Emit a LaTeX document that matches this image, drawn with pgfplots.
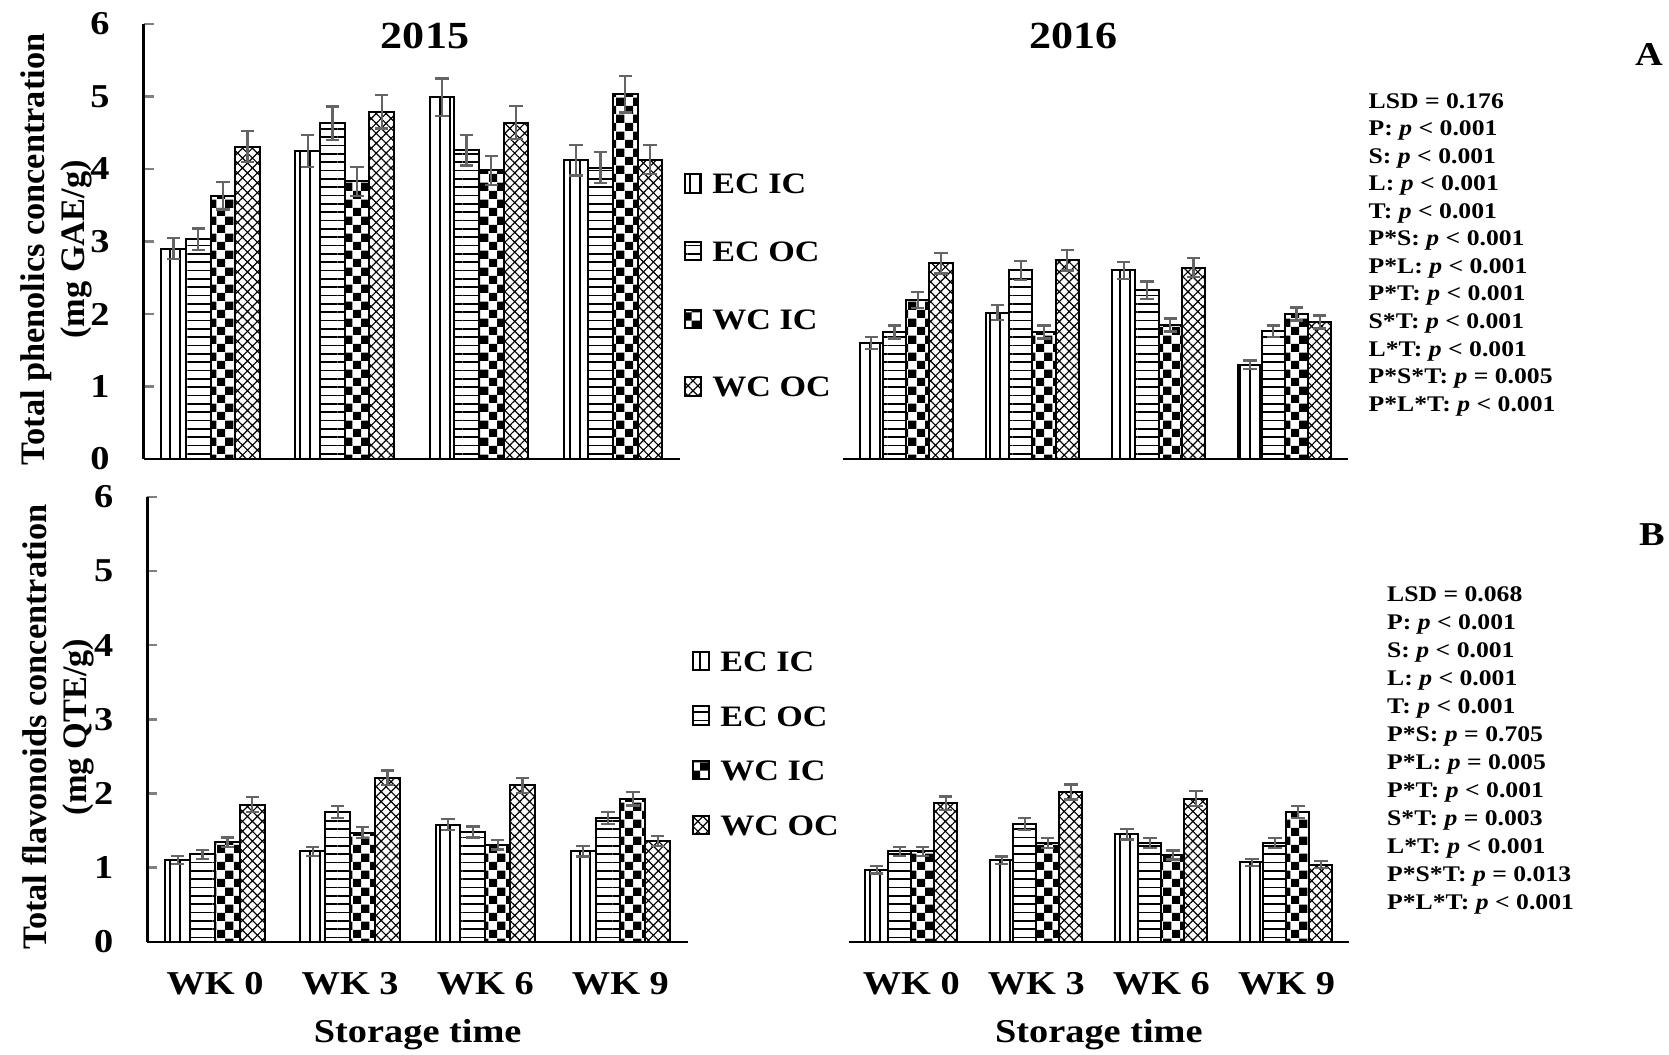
\documentclass[border=0pt]{standalone}
\usepackage{fontspec}
\setmainfont{Liberation Serif}[FakeStretch=1.15]
\newfontfamily\ylabfont{Liberation Serif}
\usepackage{pgfplots}
\pgfplotsset{compat=1.18}
\usetikzlibrary{patterns.meta}
\pgfdeclarepatternformonly{bigchecker}{\pgfqpoint{0pt}{0pt}}{\pgfqpoint{5pt}{5pt}}{\pgfqpoint{5pt}{5pt}}{%
  \pgfpathrectangle{\pgfqpoint{0pt}{0pt}}{\pgfqpoint{2.5pt}{2.5pt}}%
  \pgfpathrectangle{\pgfqpoint{2.5pt}{2.5pt}}{\pgfqpoint{2.5pt}{2.5pt}}%
  \pgfusepath{fill}}
\definecolor{errgray}{RGB}{100,100,100}
\tikzset{
  ecic/.style={draw=black, line width=0.6pt, pattern={Lines[angle=90,distance=3pt,line width=0.6pt]}},
  ecoc/.style={draw=black, line width=0.6pt, pattern={Lines[angle=0,distance=2.5pt,line width=0.5pt]}},
  wcic/.style={draw=black, line width=0.6pt, pattern=bigchecker},
  wcoc/.style={draw=black, line width=0.6pt, pattern={Hatch[angle=45,distance=2.1pt,line width=0.35pt]}},
}
\pgfplotsset{
  panel/.style={scale only axis, xmin=-0.5, xmax=3.5, ymin=0, ymax=6, ytick={0,1,2,3,4,5,6},
    ybar, bar shift=0pt, bar width=0.184,
    axis x line*=bottom, clip=false,
    axis line style={line width=0.7pt},
    tick style={line width=0.7pt}, tick align=inside, major tick length=3pt,
    xtick style={draw=none},
    error bars/y dir=both, error bars/y explicit,
    error bars/error bar style={errgray, line width=0.7pt},
    error bars/error mark options={rotate=90, errgray, mark size=2pt, line width=0.7pt}},
  leftpanel/.style={panel, axis y line*=left, yticklabels={0,1,2,3,4,5,6},
    yticklabel style={font=\fontsize{10}{12}\selectfont\bfseries, anchor=east, inner sep=0pt, xshift=-10pt},
    legend image code/.code={\draw[##1, line width=0.6pt] (0pt,-2.75pt) rectangle (5pt,2.75pt);},
    legend cell align=left},
  rightpanel/.style={panel, axis y line=none},
  toppanel/.style={xtick=\empty},
  botpanel/.style={xtick={0,1,2,3}, xticklabels={WK 0,WK 3,WK 6,WK 9},
    xticklabel style={font=\fontsize{10}{12}\selectfont\bfseries, anchor=center, yshift=-12.6pt},
    xlabel={Storage time},
    xlabel style={font=\fontsize{10}{12}\selectfont\bfseries, at={(axis description cs:0.5,0)}, anchor=center, yshift=-27.9pt}},
}
\begin{document}
\begin{tikzpicture}
\useasboundingbox (0pt,0pt) rectangle (500.7pt,316.2pt);
% ---------- top left: 2015 phenolics
\begin{axis}[leftpanel, toppanel, at={(43.08pt,178.5pt)}, anchor=south west, width=160.92pt, height=130.5pt,
  legend style={at={(1.0056,0.40)}, anchor=west, draw=none, fill=none, inner sep=0pt, row sep=14pt,
    font=\fontsize{8.9}{10}\selectfont\bfseries, nodes={inner sep=0pt, text height=6.3pt, text depth=0pt},
    /tikz/every odd column/.append style={column sep=3pt}}]
\addplot[ecic] coordinates {(-0.276,2.90) +- (0,0.145) (0.724,4.25) +- (0,0.22) (1.724,4.99) +- (0,0.26) (2.724,4.12) +- (0,0.21)};
\addplot[ecoc] coordinates {(-0.092,3.03) +- (0,0.15) (0.908,4.63) +- (0,0.23) (1.908,4.26) +- (0,0.21) (2.908,4.02) +- (0,0.21)};
\addplot[wcic] coordinates {(0.092,3.63) +- (0,0.19) (1.092,3.83) +- (0,0.20) (2.092,3.98) +- (0,0.20) (3.092,5.03) +- (0,0.25)};
\addplot[wcoc] coordinates {(0.276,4.31) +- (0,0.21) (1.276,4.79) +- (0,0.23) (2.276,4.64) +- (0,0.23) (3.276,4.13) +- (0,0.20)};
\legend{EC IC, EC OC, WC IC, WC OC}
\end{axis}
% ---------- top right: 2016 phenolics
\begin{axis}[rightpanel, toppanel, at={(252.9pt,178.5pt)}, anchor=south west, width=151.5pt, height=130.5pt]
\addplot[ecic] coordinates {(-0.276,1.60) +- (0,0.08) (0.724,2.02) +- (0,0.10) (1.724,2.60) +- (0,0.12) (2.724,1.30) +- (0,0.06)};
\addplot[ecoc] coordinates {(-0.092,1.75) +- (0,0.09) (0.908,2.60) +- (0,0.13) (1.908,2.33) +- (0,0.12) (2.908,1.76) +- (0,0.08)};
\addplot[wcic] coordinates {(0.092,2.19) +- (0,0.11) (1.092,1.75) +- (0,0.09) (2.092,1.85) +- (0,0.09) (3.092,2.00) +- (0,0.09)};
\addplot[wcoc] coordinates {(0.276,2.70) +- (0,0.14) (1.276,2.74) +- (0,0.14) (2.276,2.64) +- (0,0.13) (3.276,1.89) +- (0,0.09)};
\end{axis}
% ---------- bottom left: 2015 flavonoids
\begin{axis}[leftpanel, botpanel, at={(44.22pt,33.69pt)}, anchor=south west, width=162.18pt, height=133.41pt,
  legend style={at={(1.0056,0.447)}, anchor=west, draw=none, fill=none, inner sep=0pt, row sep=10.1pt,
    font=\fontsize{8.9}{10}\selectfont\bfseries, nodes={inner sep=0pt, text height=6.3pt, text depth=0pt},
    /tikz/every odd column/.append style={column sep=3pt}}]
\addplot[ecic] coordinates {(-0.276,1.10) +- (0,0.055) (0.724,1.22) +- (0,0.06) (1.724,1.58) +- (0,0.075) (2.724,1.22) +- (0,0.07)};
\addplot[ecoc] coordinates {(-0.092,1.18) +- (0,0.06) (0.908,1.75) +- (0,0.085) (1.908,1.48) +- (0,0.075) (2.908,1.67) +- (0,0.08)};
\addplot[wcic] coordinates {(0.092,1.34) +- (0,0.065) (1.092,1.47) +- (0,0.075) (2.092,1.31) +- (0,0.065) (3.092,1.93) +- (0,0.09)};
\addplot[wcoc] coordinates {(0.276,1.85) +- (0,0.10) (1.276,2.21) +- (0,0.10) (2.276,2.11) +- (0,0.10) (3.276,1.36) +- (0,0.065)};
\legend{EC IC, EC OC, WC IC, WC OC}
\end{axis}
% ---------- bottom right: 2016 flavonoids
\begin{axis}[rightpanel, botpanel, at={(254.61pt,33.69pt)}, anchor=south west, width=150.09pt, height=133.41pt]
\addplot[ecic] coordinates {(-0.276,0.97) +- (0,0.05) (0.724,1.10) +- (0,0.05) (1.724,1.45) +- (0,0.07) (2.724,1.07) +- (0,0.05)};
\addplot[ecoc] coordinates {(-0.092,1.22) +- (0,0.06) (0.908,1.59) +- (0,0.08) (1.908,1.33) +- (0,0.065) (2.908,1.33) +- (0,0.065)};
\addplot[wcic] coordinates {(0.092,1.22) +- (0,0.06) (1.092,1.33) +- (0,0.065) (2.092,1.17) +- (0,0.06) (3.092,1.75) +- (0,0.085)};
\addplot[wcoc] coordinates {(0.276,1.87) +- (0,0.09) (1.276,2.02) +- (0,0.10) (2.276,1.93) +- (0,0.10) (3.276,1.04) +- (0,0.05)};
\end{axis}
% ---------- titles and annotations
\node[font=\fontsize{11.5}{13}\selectfont\bfseries] at (127.5pt,305.4pt) {2015};
\node[font=\fontsize{11.5}{13}\selectfont\bfseries] at (322.05pt,305.4pt) {2016};
\node[font=\fontsize{10}{12}\selectfont\bfseries] at (494.7pt,299.7pt) {A};
\node[font=\fontsize{10}{12}\selectfont\bfseries] at (495.6pt,155.7pt) {B};
\node[rotate=90, align=center, font={\ylabfont\fontsize{10.3}{12}\selectfont\bfseries}] at (16.8pt,241.35pt) {Total phenolics concentration\\(mg GAE/g)};
\node[rotate=90, align=center, font={\ylabfont\fontsize{10.3}{12}\selectfont\bfseries}] at (17.4pt,98.1pt) {Total flavonoids concentration\\(mg QTE/g)};
\node[anchor=north west, align=left, inner sep=0pt, font=\fontsize{6.7}{8.27}\selectfont\bfseries] at (410.4pt,288.45pt)
 {LSD = 0.176\\P: \textit{p} < 0.001\\S: \textit{p} < 0.001\\L: \textit{p} < 0.001\\T: \textit{p} < 0.001\\P*S: \textit{p} < 0.001\\P*L: \textit{p} < 0.001\\P*T: \textit{p} < 0.001\\S*T: \textit{p} < 0.001\\L*T: \textit{p} < 0.001\\P*S*T: \textit{p} = 0.005\\P*L*T: \textit{p} < 0.001};
\node[anchor=north west, align=left, inner sep=0pt, font=\fontsize{6.7}{8.4}\selectfont\bfseries] at (415.95pt,140.55pt)
 {LSD = 0.068\\P: \textit{p} < 0.001\\S: \textit{p} < 0.001\\L: \textit{p} < 0.001\\T: \textit{p} < 0.001\\P*S: \textit{p} = 0.705\\P*L: \textit{p} = 0.005\\P*T: \textit{p} < 0.001\\S*T: \textit{p} = 0.003\\L*T: \textit{p} < 0.001\\P*S*T: \textit{p} = 0.013\\P*L*T: \textit{p} < 0.001};
\end{tikzpicture}
\end{document}
